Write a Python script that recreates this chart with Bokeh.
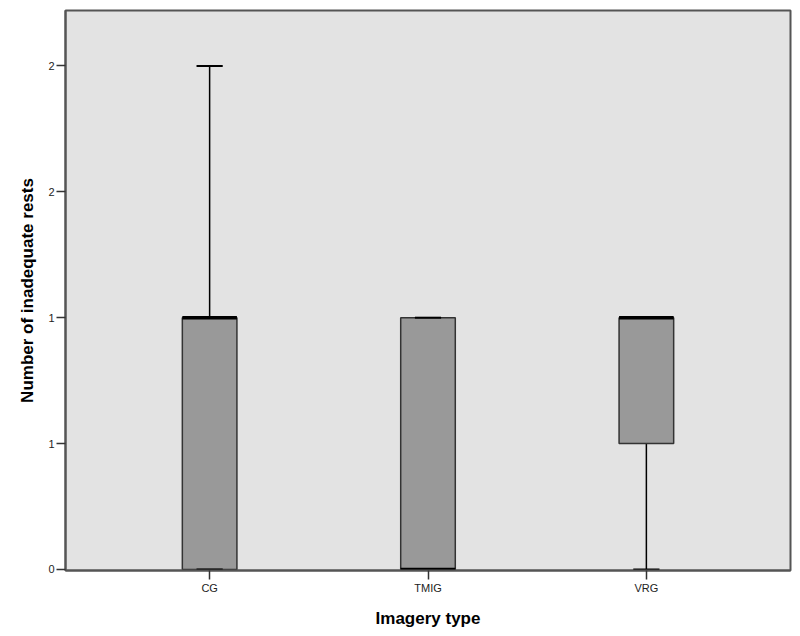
from bokeh.plotting import figure
from bokeh.models import Range1d, FixedTicker
from bokeh.embed import file_html
from bokeh.resources import INLINE

# Data
categories = ["CG", "TMIG", "VRG"]
positions = [1, 2, 3]
lower_whisker = [0.0, 0.0, 0.0]
q1 = [0.0, 0.0, 0.5]
median = [1.0, 0.0, 1.0]
q3 = [1.0, 1.0, 1.0]
upper_whisker = [2.0, 1.0, 1.0]

ytick_values = [0, 0.5, 1.0, 1.5, 2.0]
ytick_labels = ["0", "1", "1", "2", "2"]

BOX_W = 0.25
CAP_W = 0.12

p = figure(width=792, height=630, output_backend="svg", toolbar_location=None,
           x_range=Range1d(0.34, 3.66), y_range=Range1d(-0.004, 2.22),
           min_border_left=65, min_border_right=2, min_border_top=10, min_border_bottom=56)

p.background_fill_color = "#e3e3e3"
p.border_fill_color = "white"
p.outline_line_color = "#555555"
p.outline_line_width = 2
p.xgrid.visible = False
p.ygrid.visible = False

# whiskers (vertical stems)
p.segment(x0=positions, y0=q3, x1=positions, y1=upper_whisker, line_color="black", line_width=1.5)
p.segment(x0=positions, y0=lower_whisker, x1=positions, y1=q1, line_color="black", line_width=1.5)

# boxes
p.vbar(x=positions, width=BOX_W, bottom=q1, top=q3, fill_color="#999999",
       line_color="#333333", line_width=1.5)

# caps
xl = [x - CAP_W / 2 for x in positions]
xr = [x + CAP_W / 2 for x in positions]
p.segment(x0=xl, y0=upper_whisker, x1=xr, y1=upper_whisker, line_color="black", line_width=2)
p.segment(x0=xl, y0=lower_whisker, x1=xr, y1=lower_whisker, line_color="black", line_width=2)

# medians
mxl = [x - BOX_W / 2 for x in positions]
mxr = [x + BOX_W / 2 for x in positions]
p.segment(x0=mxl, y0=median, x1=mxr, y1=median, line_color="black", line_width=3.5)

# axes
p.xaxis.ticker = FixedTicker(ticks=positions)
p.xaxis.major_label_overrides = {pos: lab for pos, lab in zip(positions, categories)}
p.yaxis.ticker = FixedTicker(ticks=ytick_values)
p.yaxis.major_label_overrides = {v: lab for v, lab in zip(ytick_values, ytick_labels)}

for ax in (p.xaxis[0], p.yaxis[0]):
    ax.axis_line_color = "#555555"
    ax.axis_line_width = 2
    ax.major_tick_line_color = "#333333"
    ax.major_tick_line_width = 1.5
    ax.major_tick_in = 0
    ax.major_tick_out = 9
    ax.minor_tick_line_color = None
    ax.major_label_text_font = "Liberation Sans"
    ax.major_label_text_font_size = "11px"
    ax.major_label_text_color = "#222222"
    ax.major_label_standoff = 2
    ax.axis_label_text_font = "Liberation Sans"
    ax.axis_label_text_font_style = "bold"
    ax.axis_label_text_font_size = "17px"
    ax.axis_label_text_color = "black"

p.xaxis.axis_label = "Imagery type"
p.yaxis.axis_label = "Number of inadequate rests"
p.xaxis.axis_label_standoff = 12
p.yaxis.axis_label_standoff = 8

open("out.html", "w").write(file_html(p, INLINE))
